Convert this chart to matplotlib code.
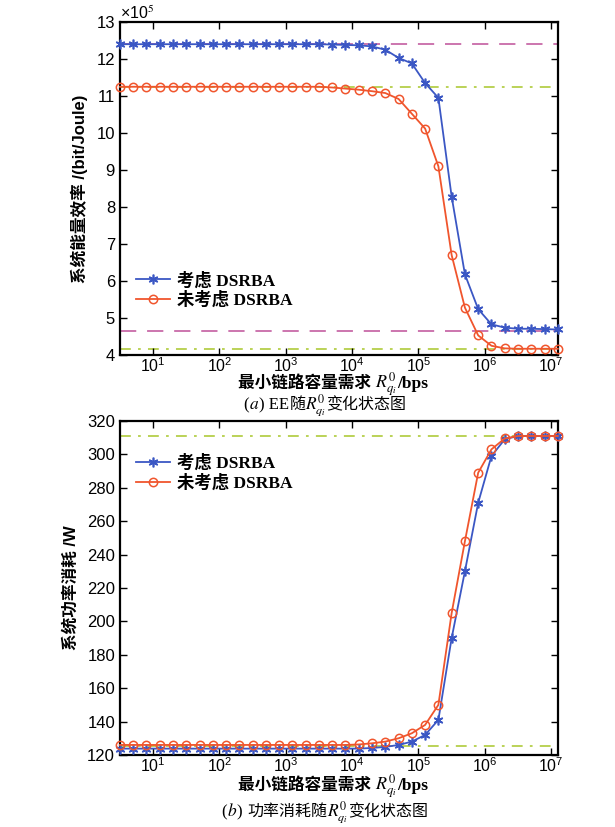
import numpy as np
import matplotlib
matplotlib.use("Agg")
import matplotlib.pyplot as plt
from matplotlib.ticker import NullLocator, FixedLocator

plt.rcParams['font.family'] = ['Liberation Sans', 'Noto Sans CJK SC']
plt.rcParams['mathtext.fontset'] = 'stix'

# x values (bps): 34 points, 0.2 decade apart from 10^0.5 to 10^7.1
x_exp = [0.5, 0.7, 0.9, 1.1, 1.3, 1.5, 1.7, 1.9, 2.1, 2.3, 2.5, 2.7, 2.9, 3.1,
         3.3, 3.5, 3.7, 3.9, 4.1, 4.3, 4.5, 4.7, 4.9, 5.1, 5.3, 5.5, 5.7, 5.9,
         6.1, 6.3, 6.5, 6.7, 6.9, 7.1]
x_vals = [10 ** e for e in x_exp]

# Energy efficiency (x10^5 bit/Joule)
ee_dsrba = [12.40, 12.40, 12.40, 12.40, 12.40, 12.40, 12.40, 12.40, 12.40, 12.40,
            12.40, 12.40, 12.40, 12.40, 12.40, 12.40, 12.39, 12.38, 12.37, 12.34,
            12.25, 12.03, 11.88, 11.35, 10.95, 8.28, 6.18, 5.24, 4.83, 4.74,
            4.71, 4.71, 4.70, 4.69]
ee_no_dsrba = [11.25, 11.25, 11.25, 11.25, 11.25, 11.25, 11.25, 11.25, 11.25, 11.25,
               11.25, 11.25, 11.25, 11.25, 11.25, 11.25, 11.23, 11.20, 11.17, 11.13,
               11.08, 10.92, 10.52, 10.12, 9.10, 6.70, 5.28, 4.53, 4.25, 4.18,
               4.17, 4.17, 4.17, 4.17]
ee_ref_dash = [12.4, 4.65]
ee_ref_dashdot = [11.25, 4.15]

# Power consumption (W)
pw_dsrba = [123.8] * 19 + [124.2, 124.8, 126.0, 128.0, 132.0, 141.0, 190.0, 230.0,
                           271.0, 299.0, 309.0, 311.0, 311.0, 311.0, 311.0]
pw_no_dsrba = [126.0] * 18 + [126.3, 127.0, 128.0, 130.0, 133.0, 138.0, 150.0, 205.0,
                              248.0, 289.0, 303.0, 309.5, 311.0, 311.0, 311.0, 311.0]
pw_ref_dashdot = [311.0, 125.5]

legend_labels = ['考虑 DSRBA', '未考虑 DSRBA']

BLUE = '#3b57c4'
RED = '#f0552d'
MAGENTA = '#c86aa8'
GREEN = '#b5cf4a'

FIG_W, FIG_H = 615, 827
fig = plt.figure(figsize=(6.15, 8.27), dpi=100)
ax1 = fig.add_axes([0.195, 0.5707, 0.712, 0.4027])
ax2 = fig.add_axes([0.195, 0.0871, 0.712, 0.4039])

serif_cjk = ['Liberation Serif', 'Noto Sans CJK SC']
legend_font = {'family': serif_cjk, 'weight': 'bold', 'size': 12.5}


def style_axis(ax):
    ax.set_xscale('log')
    ax.set_xlim(x_vals[0], x_vals[-1])
    ax.xaxis.set_major_locator(FixedLocator([1e1, 1e2, 1e3, 1e4, 1e5, 1e6, 1e7]))
    ax.xaxis.set_minor_locator(NullLocator())
    ax.tick_params(direction='in', top=True, right=True, labelsize=12, length=5, width=1)
    ax.tick_params(axis='x', pad=1, labelsize=11.5)
    for s in ax.spines.values():
        s.set_linewidth(1.6)


# --- top: energy efficiency
for v in ee_ref_dash:
    ax1.axhline(v, color=MAGENTA, ls=(0, (9, 6)), lw=1.3, zorder=1)
for v in ee_ref_dashdot:
    ax1.axhline(v, color=GREEN, ls=(0, (6, 4, 1.5, 4)), lw=1.3, zorder=1)
ax1.plot(x_vals, ee_dsrba, color=BLUE, lw=1.3, marker=(6, 2, 0), ms=7, mew=1.2,
         label=legend_labels[0], clip_on=False, zorder=3)
ax1.plot(x_vals, ee_no_dsrba, color=RED, lw=1.3, marker='o', ms=6, mfc='none', mew=1.1,
         label=legend_labels[1], clip_on=False, zorder=3)
style_axis(ax1)
ax1.set_ylim(4, 13)
ax1.set_yticks(range(4, 14))
ax1.set_ylabel('系统能量效率 /(bit/Joule)', fontsize=12, fontweight='bold', labelpad=6)
fig.text(120 / FIG_W, 1 - 19 / FIG_H, r'×10$^{5}$', fontsize=11.5, ha='left', va='baseline')
ax1.legend(loc='upper left', bbox_to_anchor=(0.02, 0.27), frameon=False, prop=legend_font,
           handlelength=2.0, handletextpad=0.4, labelspacing=0.15, borderaxespad=0)

# --- bottom: power consumption
for v in pw_ref_dashdot:
    ax2.axhline(v, color=GREEN, ls=(0, (6, 4, 1.5, 4)), lw=1.3, zorder=1)
ax2.plot(x_vals, pw_dsrba, color=BLUE, lw=1.3, marker=(6, 2, 0), ms=7, mew=1.2,
         label=legend_labels[0], clip_on=False, zorder=3)
ax2.plot(x_vals, pw_no_dsrba, color=RED, lw=1.3, marker='o', ms=6, mfc='none', mew=1.1,
         label=legend_labels[1], clip_on=False, zorder=3)
style_axis(ax2)
ax2.set_ylim(120, 320)
ax2.set_yticks(range(120, 321, 20))
ax2.set_ylabel('系统功率消耗 /W', fontsize=12, fontweight='bold', labelpad=6)
ax2.legend(loc='upper left', bbox_to_anchor=(0.02, 0.92), frameon=False, prop=legend_font,
           handlelength=2.0, handletextpad=0.4, labelspacing=0.15, borderaxespad=0)

# Mixed-font lines (CJK text + math) built from separate text pieces
renderer = fig.canvas.get_renderer()


def place_line(x_center_px, y_base_px, parts):
    texts = []
    for s, kw in parts:
        t = fig.text(0, 1 - y_base_px / FIG_H, s, ha='left', va='baseline', **kw)
        texts.append(t)
    widths = [t.get_window_extent(renderer).width for t in texts]
    x = x_center_px - sum(widths) / 2
    for t, w in zip(texts, widths):
        t.set_x(x / FIG_W)
        x += w


cjk_b = dict(family=['Noto Sans CJK SC'], fontweight='bold', fontsize=12)
ser_b = dict(family=['Liberation Serif'], fontweight='bold', fontsize=12.5)
cjk_n = dict(family=['Noto Sans CJK SC'], fontsize=11.5)
ser_n = dict(family=['Liberation Serif'], fontsize=12)

xlabel_parts = [('最小链路容量需求 ', cjk_b), (r'$R_{q_i}^{0}$', dict(fontsize=13)), ('/bps', ser_b)]
place_line(333, 388, xlabel_parts)
place_line(333, 790, xlabel_parts)
place_line(325, 409, [('(', ser_n), (r'$a$', dict(fontsize=12.5)), (') EE', ser_n), ('随', cjk_n),
                      (r'$R_{q_i}^{0}$', dict(fontsize=12.5)), ('变化状态图', cjk_n)])
place_line(325, 816, [('(', ser_n), (r'$b$', dict(fontsize=12.5)), (') ', ser_n), ('功率消耗随', cjk_n),
                      (r'$R_{q_i}^{0}$', dict(fontsize=12.5)), ('变化状态图', cjk_n)])

fig.savefig('out.png', dpi=100)
